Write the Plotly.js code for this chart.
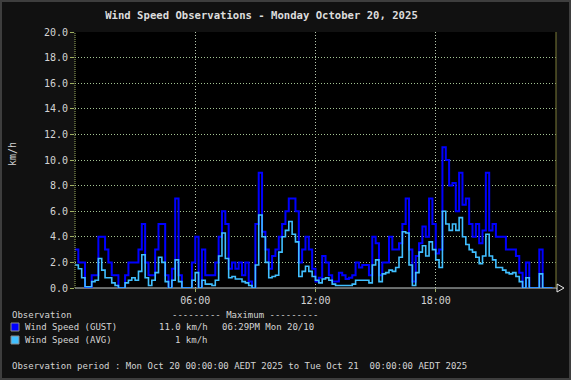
<!DOCTYPE html>
<html>
<head>
<meta charset="utf-8">
<script src="https://cdn.plot.ly/plotly-3.0.1.min.js"></script>
<style>
  html, body { margin: 0; padding: 0; background: #111111; }
  #wrap { position: relative; width: 571px; height: 380px; }
  #chart { width: 571px; height: 380px; }
  #frame { position: absolute; left: 0; top: 0; width: 571px; height: 380px; box-sizing: border-box; border: 2px solid #3e3e3e; pointer-events: none; }
</style>
</head>
<body>
<div id="wrap"><div id="chart"></div><div id="frame"></div></div>
<script>
// ---- Data (10-minute readings, Mon 20 Oct 2025, km/h) ----
const dayStart = '2025-10-20';
const intervalMinutes = 10;

const gust = [
  3, 2, 2, 0, 0, 1, 1, 4, 4, 3, 2, 1, 1, 0, 0, 1, 2, 2, 2, 3,
  5, 2, 1, 1, 3, 5, 5, 1, 0, 1.5, 7, 1, 0, 0, 0, 2, 4, 0, 3, 1,
  1, 1, 2, 4, 6, 5, 1.5, 2, 1.5, 2, 1, 2, 0.5, 0, 5, 9, 4.4, 3, 1.5, 2.5,
  3, 4, 5, 6, 7, 7, 6, 2, 3, 4, 3, 1.5, 0.5, 0.8, 2.5, 2, 1, 0.5, 0.5, 1.2,
  1, 0.7, 0.8, 1, 2, 1.6, 1.8, 1.8, 1, 4, 3.5, 1, 2, 2, 4, 3, 3, 3.5, 5, 7,
  3, 0.5, 2.5, 3.5, 4.8, 4, 7, 5, 2.7, 3, 11, 10, 8, 8.2, 6, 9, 6.5, 7, 5, 4,
  5, 3.5, 4.5, 9, 4.5, 5, 4, 4, 4, 3, 3, 3, 2.5, 1.2, 0, 2, 0, 0, 0, 3,
  0, 0, 0, 0
];

const avg = [
  1.8, 1.5, 0.8, 0.1, 0.1, 0.5, 0.6, 2.3, 1.4, 0.8, 0.8, 0.4, 0.2, 0, 0, 0.4, 0.6, 0.8, 0.6, 1.3,
  2.6, 0.8, 0.2, 0.6, 1.2, 2.4, 2.0, 0.5, 0, 0.6, 2.2, 0.5, 0, 0, 0, 0.6, 1.2, 0, 0.6, 0.3,
  0.3, 0.2, 0.6, 2.5, 4.3, 2.3, 0.8, 0.9, 0.7, 0.7, 0.5, 0.4, 0.2, 0, 1.8, 5.7, 4.0, 2.0, 0.8, 0.9,
  1.0, 2.8, 4.0, 4.5, 5.2, 4.2, 3.6, 0.9, 1.3, 1.7, 1.3, 0.9, 0.6, 0.4, 0.7, 0.8, 0.6, 0.3, 0.2, 0.2,
  0.2, 0.2, 0.2, 0.3, 0.6, 0.6, 0.6, 0.6, 0.4, 1.8, 2.2, 0.5, 1.1, 1.2, 1.4, 1.3, 1.6, 2.4, 4.4, 4.3,
  1.8, 0.2, 1.2, 2.8, 3.3, 2.5, 3.6, 3.0, 2.2, 1.6, 6.0, 5.0, 4.5, 5.0, 4.5, 5.5, 4.0, 3.4, 3.0, 2.8,
  2.4, 1.9, 2.5, 4.2, 2.5, 2.2, 1.6, 1.6, 1.4, 1.2, 1.1, 1.2, 0.9, 0.5, 0, 0.8, 0, 0, 0, 1.1,
  0, 0, 0, 0
];

const tickTimes = ['2025-10-20 06:00', '2025-10-20 12:00', '2025-10-20 18:00'];
const tickLabels = ['06:00', '12:00', '18:00'];
const seriesNames = ['Wind Speed (GUST)', 'Wind Speed (AVG)'];
const gustMaxTime = '06:29PM Mon 20/10';
const avgMaxText = '1 km/h';

// ---- Build timestamps ----
function pad(n) { return (n < 10 ? '0' : '') + n; }
const times = gust.map((_, i) => {
  const m = i * intervalMinutes;
  return dayStart + ' ' + pad(Math.floor(m / 60)) + ':' + pad(m % 60) + ':00';
});

// ---- Layout geometry (pixels -> paper) ----
const W = 571, H = 380;
const L = 75, R = 556, T = 32, B = 288;
const px = x => (x - L) / (R - L);
const py = y => (B - y) / (B - T);

const FONT = 'DejaVu Sans Mono, monospace';
const TXT = '#d4d4d4';
const GUST_C = '#0000ff';
const AVG_C = '#40bfff';
const GRID_H = '#a4c494';
const GRID_V = '#b8c8b0';

const traces = [
  { x: times, y: gust, name: seriesNames[0], type: 'scatter', mode: 'lines',
    line: { color: GUST_C, width: 2, shape: 'hv' } },
  { x: times, y: avg, name: seriesNames[1], type: 'scatter', mode: 'lines',
    line: { color: AVG_C, width: 1.6, shape: 'hv' } }
];

function ann(text, x, y, xanchor, extra) {
  return Object.assign({ text: text, x: px(x), y: py(y), xref: 'paper', yref: 'paper',
    xanchor: xanchor, yanchor: 'middle', showarrow: false, borderpad: 0,
    font: { family: FONT, size: 9, color: TXT } }, extra || {});
}

const gustMax = Math.max.apply(null, gust).toFixed(1) + ' km/h';

const annotations = [
  ann('km/h', 12, 154, 'center', { textangle: -90, font: { family: FONT, size: 10, color: TXT } }),
  ann('Observation', 11, 315, 'left'),
  ann('--------- Maximum ---------', 171, 315, 'left'),
  ann(seriesNames[0], 24, 327, 'left'),
  ann(gustMax, 209, 327, 'right'),
  ann(gustMaxTime, 221, 327, 'left'),
  ann(seriesNames[1], 24, 340, 'left'),
  ann(avgMaxText, 209, 340, 'right'),
  ann('Observation period : Mon Oct 20 00:00:00 AEDT 2025 to Tue Oct 21\u00A0 00:00:00 AEDT 2025', 11, 366, 'left')
];

const shapes = [
  // bottom axis line with arrow
  { type: 'line', xref: 'paper', yref: 'paper', x0: 0, x1: px(558), y0: 0, y1: 0,
    line: { color: '#c8d0d0', width: 1 }, layer: 'below' },
  { type: 'path', xref: 'paper', yref: 'paper',
    path: 'M ' + px(557) + ' ' + py(284) + ' L ' + px(564) + ' ' + py(288) + ' L ' + px(557) + ' ' + py(292) + ' Z',
    fillcolor: '#111111', line: { color: '#e8e8e8', width: 1 } },
  // left axis (dotted olive)
  { type: 'line', xref: 'paper', yref: 'paper', x0: 0, x1: 0, y0: 0, y1: 1,
    line: { color: '#9fb060', width: 1, dash: '1px,1px' } },
  // right border
  { type: 'line', xref: 'paper', yref: 'paper', x0: 1, x1: 1, y0: 0, y1: 1,
    line: { color: '#7c7c38', width: 1 } },
  // legend swatches
  { type: 'rect', xref: 'paper', yref: 'paper', x0: px(11), x1: px(19), y0: py(331), y1: py(323),
    fillcolor: GUST_C, line: { color: '#8a8a8a', width: 1 } },
  { type: 'rect', xref: 'paper', yref: 'paper', x0: px(11), x1: px(19), y0: py(344), y1: py(336),
    fillcolor: AVG_C, line: { color: '#8a8a8a', width: 1 } }
];

const layout = {
  width: W, height: H,
  margin: { l: L, r: W - R, t: T, b: H - B, pad: 0 },
  paper_bgcolor: '#111111',
  plot_bgcolor: '#000000',
  showlegend: false,
  title: { text: 'Wind Speed Observations - Monday October 20, 2025',
    font: { family: FONT, size: 10.6, color: '#dcdcdc', weight: 'bold' },
    x: 261.5 / W, xref: 'container', xanchor: 'center',
    y: 1 - 15 / H, yref: 'container', yanchor: 'middle' },
  xaxis: {
    type: 'date',
    range: [dayStart + ' 00:00', '2025-10-21 00:00'],
    tickvals: tickTimes, ticktext: tickLabels,
    tickfont: { family: FONT, size: 10, color: TXT },
    ticks: 'outside', ticklen: 3, tickcolor: '#9fb060',
    showgrid: true, gridcolor: GRID_V, griddash: '1px,2px', gridwidth: 1,
    showline: false, zeroline: false, fixedrange: true
  },
  yaxis: {
    range: [0, 20], dtick: 2, tick0: 0, tickformat: '.1f',
    tickfont: { family: FONT, size: 10, color: TXT },
    ticks: 'outside', ticklen: 4, tickcolor: '#9fb060',
    showgrid: true, gridcolor: GRID_H, griddash: '1px,2px', gridwidth: 1,
    showline: false, zeroline: false, fixedrange: true
  },
  annotations: annotations,
  shapes: shapes
};

Plotly.newPlot('chart', traces, layout, { displayModeBar: false, staticPlot: true });
</script>
</body>
</html>
